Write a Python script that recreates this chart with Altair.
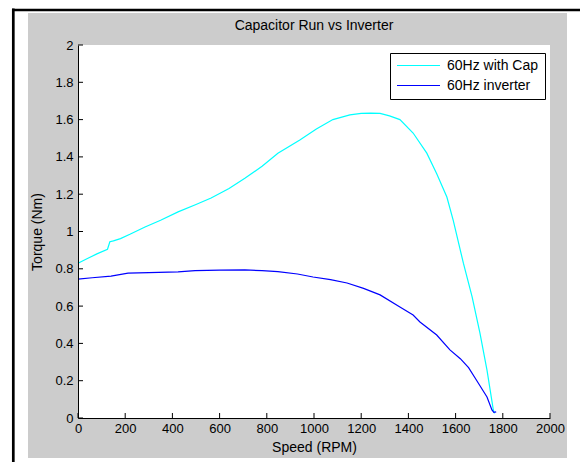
import altair as alt
import pandas as pd

# ---- data ----
cap_speed = [0, 40, 80, 125, 135, 150, 180, 220, 284, 350, 424, 500, 564, 640, 707,
             780, 847, 940, 1010, 1080, 1152, 1200, 1240, 1280, 1320, 1364, 1420,
             1478, 1520, 1563, 1590, 1633, 1670, 1703, 1733, 1760, 1765]
cap_torque = [0.83, 0.855, 0.88, 0.905, 0.945, 0.95, 0.962, 0.985, 1.024, 1.06, 1.105,
              1.145, 1.18, 1.23, 1.285, 1.35, 1.42, 1.49, 1.55, 1.60, 1.625, 1.633,
              1.635, 1.633, 1.62, 1.60, 1.528, 1.42, 1.31, 1.185, 1.06, 0.83, 0.65,
              0.456, 0.257, 0.043, 0.025]

inv_speed = [0, 60, 140, 212, 300, 424, 496, 600, 707, 780, 847, 930, 996, 1070, 1140,
             1210, 1280, 1364, 1420, 1449, 1520, 1576, 1620, 1655, 1690, 1733,
             1754, 1762, 1772]
inv_torque = [0.745, 0.752, 0.761, 0.777, 0.78, 0.783, 0.79, 0.793, 0.794, 0.79, 0.785,
              0.772, 0.756, 0.742, 0.724, 0.695, 0.66, 0.595, 0.552, 0.515, 0.445,
              0.365, 0.318, 0.27, 0.2, 0.113, 0.043, 0.03, 0.033]

series_names = ["60Hz with Cap", "60Hz inverter"]
series_colors = ["#00ffff", "#0000ff"]

x_tick_values = [0, 200, 400, 600, 800, 1000, 1200, 1400, 1600, 1800, 2000]
y_tick_values = [0, 0.2, 0.4, 0.6, 0.8, 1.0, 1.2, 1.4, 1.6, 1.8, 2.0]

title_text = "Capacitor Run vs Inverter"
x_title = "Speed (RPM)"
y_title = "Torque (Nm)"

# ---- layout (pixels) ----
L, T = 78, 45
W, H = 472, 373
FONT = "Liberation Sans"

df = pd.concat([
    pd.DataFrame({"speed": cap_speed, "torque": cap_torque, "series": series_names[0]}),
    pd.DataFrame({"speed": inv_speed, "torque": inv_torque, "series": series_names[1]}),
], ignore_index=True)

one = alt.Data(values=[{"k": 1}])

xscale = alt.Scale(domain=[0, 2000], nice=False, zero=False)
yscale = alt.Scale(domain=[0, 2], nice=False, zero=False)

x_axis = alt.Axis(values=x_tick_values, format="d", title=x_title, ticks=False,
                  zindex=1, labelOverlap=False, labelFlush=False,
                  labelPadding=4, titleY=33, titleBaseline="alphabetic")
y_axis = alt.Axis(values=y_tick_values, format="~g", title=y_title, ticks=False,
                  zindex=1, labelOverlap=False, labelFlush=False,
                  labelPadding=5, titleX=-34, titleY=H / 2,
                  titleAngle=270, titleBaseline="bottom")

gray = alt.Chart(one).mark_rect(color="#cccccc").encode(
    x=alt.value(28 - L), x2=alt.value(567 - L),
    y=alt.value(13 - T), y2=alt.value(458 - T))

white = alt.Chart(one).mark_rect(color="#ffffff").encode(
    x=alt.value(0), x2=alt.value(W), y=alt.value(0), y2=alt.value(H))

frame_v = alt.Chart(one).mark_rule(color="#000000", strokeWidth=2.7).encode(
    x=alt.value(13.3 - L), y=alt.value(8.6 - T), y2=alt.value(470 - T))
frame_h = alt.Chart(one).mark_rule(color="#000000", strokeWidth=2.7).encode(
    x=alt.value(12 - L), x2=alt.value(585 - L), y=alt.value(10 - T))

title_mark = alt.Chart(one).mark_text(
    text=title_text, font=FONT, fontSize=14, color="#000000",
    align="center", baseline="alphabetic").encode(
    x=alt.value(W / 2), y=alt.value(29.5 - T))

xticks = alt.Chart(pd.DataFrame({"speed": x_tick_values})).mark_rule(
    color="#000000", strokeWidth=1).encode(
    x=alt.X("speed:Q", scale=xscale, axis=x_axis), y=alt.value(H), y2=alt.value(H - 5))

yticks = alt.Chart(pd.DataFrame({"torque": y_tick_values})).mark_rule(
    color="#000000", strokeWidth=1).encode(
    y=alt.Y("torque:Q", scale=yscale, axis=y_axis), x=alt.value(0), x2=alt.value(5))

lines = alt.Chart(df).mark_line(strokeWidth=1.2).encode(
    x=alt.X("speed:Q", scale=xscale, axis=x_axis),
    y=alt.Y("torque:Q", scale=yscale, axis=y_axis),
    color=alt.Color("series:N", title=None,
                    scale=alt.Scale(domain=series_names, range=series_colors),
                    legend=alt.Legend(orient="none", legendX=312, legendY=8,
                                      symbolType="stroke", symbolSize=1849,
                                      symbolStrokeWidth=1.2, labelOffset=6,
                                      clipHeight=13,
                                      padding=6, rowPadding=5,
                                      strokeColor="#000000", fillColor="#ffffff",
                                      labelFont=FONT, labelFontSize=14,
                                      labelColor="#000000")),
    detail="series:N",
)

chart = alt.layer(gray, white, frame_v, frame_h, title_mark, xticks, yticks, lines).properties(
    width=W, height=H,
    autosize=alt.AutoSizeParams(type="none"),
    padding={"left": L, "top": T, "right": 580 - L - W, "bottom": 462 - T - H},
    background="#ffffff",
).configure_view(stroke=None).configure_axis(
    grid=False, domainColor="#000000", domainWidth=1,
    labelColor="#000000", labelFont=FONT, labelFontSize=13,
    titleColor="#000000", titleFont=FONT, titleFontSize=14, titleFontWeight="normal",
)

chart.save("out.html", embed_options={"renderer": "svg", "actions": False})
